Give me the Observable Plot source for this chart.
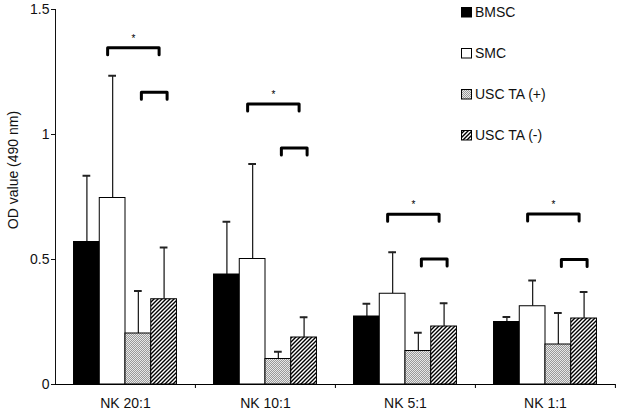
<!DOCTYPE html>
<html>
<head>
<meta charset="utf-8">
<script src="https://cdn.jsdelivr.net/npm/d3@7"></script>
<script src="https://cdn.jsdelivr.net/npm/@observablehq/plot@0.6"></script>
<style>
  body { margin: 0; background: #fff; }
  #wrap { position: relative; width: 618px; height: 412px; font-family: "Liberation Sans", Arial, sans-serif; }
  #legend { position: absolute; left: 461px; top: 0; }
  .item { position: absolute; left: 0; display: flex; align-items: center; font-size: 14px; white-space: nowrap; color: #111; }
  .item svg { margin-right: 2px; }
  [aria-label^="fx-axis"] text { font-size: 14px; }
  [aria-label^="y-axis"] text { font-size: 14px; }
</style>
</head>
<body>
<svg width="0" height="0" style="position:absolute">
  <defs>
    <pattern id="dots" patternUnits="userSpaceOnUse" width="2" height="2">
      <rect width="2" height="2" fill="#e8e8e8"></rect>
      <rect width="1" height="1" fill="#9a9a9a"></rect>
      <rect x="1" y="1" width="1" height="1" fill="#9a9a9a"></rect>
    </pattern>
    <pattern id="hatch" patternUnits="userSpaceOnUse" width="4" height="4">
      <rect width="4" height="4" fill="#fff"></rect>
      <path d="M-1,1 l2,-2 M0,4 l4,-4 M3,5 l2,-2" stroke="#000" stroke-width="1.4"></path>
    </pattern>
  </defs>
</svg>
<div id="wrap">
  <div id="chart"></div>
  <div id="legend"></div>
</div>
<script>
// ---- data ----
const groups = ["NK 20:1", "NK 10:1", "NK 5:1", "NK 1:1"];
const series = ["BMSC", "SMC", "USC TA (+)", "USC TA (-)"];
const meanBMSC   = [0.570, 0.440, 0.272, 0.250];
const meanSMC    = [0.746, 0.502, 0.363, 0.313];
const meanUSCpos = [0.204, 0.102, 0.134, 0.160];
const meanUSCneg = [0.341, 0.188, 0.232, 0.264];
const sdBMSC     = [0.265, 0.211, 0.051, 0.020];
const sdSMC      = [0.489, 0.380, 0.166, 0.103];
const sdUSCpos   = [0.170, 0.029, 0.073, 0.126];
const sdUSCneg   = [0.207, 0.081, 0.093, 0.106];
const bracketBigY   = [1.347, 1.122, 0.681, 0.682];
const bracketSmallY = [1.169, 0.946, 0.502, 0.500];
const bracketLeg = 0.028;
const yTicks = [0, 0.5, 1, 1.5];
const yTitle = "OD value (490 nm)";
const fills = ["#000", "#fff", "url(#dots)", "url(#hatch)"];

// ---- tables ----
const means = [meanBMSC, meanSMC, meanUSCpos, meanUSCneg];
const sds = [sdBMSC, sdSMC, sdUSCpos, sdUSCneg];
const rows = [];
groups.forEach((g, gi) => series.forEach((s, si) => {
  rows.push({group: g, series: s, mean: means[si][gi], top: means[si][gi] + sds[si][gi]});
}));
const bracketsBig = [], bracketsSmall = [], stars = [];
groups.forEach((g, gi) => {
  const yb = bracketBigY[gi], ys = bracketSmallY[gi];
  [["SMC", yb - bracketLeg], ["SMC", yb], ["USC TA (-)", yb], ["USC TA (-)", yb - bracketLeg]]
    .forEach(([s, y]) => bracketsBig.push({group: g, series: s, y}));
  [["USC TA (+)", ys - bracketLeg], ["USC TA (+)", ys], ["USC TA (-)", ys], ["USC TA (-)", ys - bracketLeg]]
    .forEach(([s, y]) => bracketsSmall.push({group: g, series: s, y}));
  stars.push({group: g, series: "USC TA (+)", y: yb});
});

const chart = Plot.plot({
  width: 618,
  height: 412,
  marginLeft: 54,
  marginRight: 3,
  marginTop: 9,
  marginBottom: 28,
  style: {fontFamily: "'Liberation Sans', Arial, sans-serif", fontSize: "13px", color: "#111", background: "transparent", overflow: "visible"},
  fx: {domain: groups, padding: 0, label: null, axis: "bottom", tickSize: 0, tickPadding: 14},
  x: {domain: series, paddingInner: 0, paddingOuter: 0.72, round: false, axis: null},
  y: {domain: [0, 1.5], ticks: yTicks, tickFormat: d => String(d), line: true, label: null, tickSize: 4, tickPadding: 2},
  color: {domain: series, range: fills},
  marks: [
    Plot.ruleX(rows, {fx: "group", x: "series", y1: "mean", y2: "top", stroke: "#222", strokeWidth: 1.3}),
    Plot.tickY(rows, {fx: "group", x: "series", y: "top", stroke: "#222", strokeWidth: 2, insetLeft: 9, insetRight: 9}),
    Plot.barY(rows, {fx: "group", x: "series", y: "mean", fill: "series", stroke: "#000", strokeWidth: 1}),
    Plot.ruleY([0], {stroke: "#000", strokeWidth: 1}),
    Plot.ruleX(groups.map(g => ({group: g, series: "USC TA (-)"})), {fx: "group", x: "series", y1: 0, y2: 0, insetBottom: -4, dx: 31.3, stroke: "#000"}),
    Plot.line(bracketsBig, {fx: "group", x: "series", y: "y", z: "group", dx: -5, stroke: "#000", strokeWidth: 3, strokeLinejoin: "round"}),
    Plot.line(bracketsSmall, {fx: "group", x: "series", y: "y", z: "group", dx: 3, stroke: "#000", strokeWidth: 3, strokeLinejoin: "round"}),
    Plot.text(stars, {fx: "group", x: "series", y: "y", text: () => "*", dx: -5, dy: -9, fontSize: 10, fill: "#000"}),
    Plot.text([{group: groups[0]}], {fx: "group", text: () => yTitle, frameAnchor: "left", textAnchor: "middle", rotate: -90, dx: -42, dy: -27, fontSize: 14, fill: "#111"})
  ]
});
document.getElementById("chart").appendChild(chart);

// ---- legend ----
const legendTops = [13, 54, 95, 136];
const legend = document.getElementById("legend");
series.forEach((s, i) => {
  const div = document.createElement("div");
  div.className = "item";
  div.style.top = (legendTops[i] - 9) + "px";
  div.innerHTML = `<svg width="12" height="11"><rect x="0.5" y="0.5" width="10" height="9.5" fill="${fills[i]}" stroke="#000" stroke-width="1"></rect></svg><span>${s}</span>`;
  legend.appendChild(div);
});
</script>
</body>
</html>
